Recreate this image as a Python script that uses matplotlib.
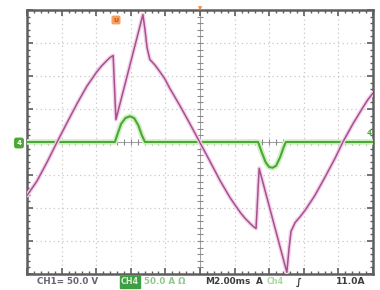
#!/usr/bin/env python3
"""Oscilloscope capture: line voltage (CH1) with notching and line current (CH4)."""

import numpy as np
import matplotlib
matplotlib.use("Agg")
import matplotlib.pyplot as plt
from matplotlib.ticker import MultipleLocator

# ---------------------------------------------------------------------------
# Data (screen divisions: time 0..10 div, amplitude -4..4 div)
# ---------------------------------------------------------------------------
volt_t = [0.00, 0.14, 0.29, 0.58, 0.87, 1.16, 1.45, 1.73, 2.02, 2.16, 2.31,
          2.40, 2.49,
          2.57, 3.35, 3.41, 3.47, 3.55, 3.70, 3.84, 3.98, 4.13, 4.42, 4.71,
          4.99,
          5.29, 5.58, 5.87, 6.16, 6.30, 6.45, 6.54, 6.62,
          6.71, 7.51, 7.57, 7.63, 7.75, 7.89, 8.03, 8.17, 8.32, 8.61, 8.90,
          9.13, 9.42, 9.71, 9.85, 10.00]
volt_v = [-1.62, -1.41, -1.18, -0.61, 0.00, 0.59, 1.17, 1.69, 2.13, 2.31, 2.47,
          2.56, 2.62,
          0.68, 3.86, 3.40, 2.86, 2.50, 2.33, 2.13, 1.92, 1.62, 1.10, 0.55,
          0.00,
          -0.59, -1.17, -1.69, -2.13, -2.31, -2.47, -2.56, -2.62,
          -0.80, -3.95, -3.26, -2.71, -2.44, -2.27, -2.08, -1.86, -1.62, -1.07,
          -0.50, 0.00, 0.55, 1.05, 1.28, 1.48]

curr_t = [0.00, 2.54, 2.62, 2.72, 2.85, 2.98, 3.10, 3.22, 3.32, 3.41,
          6.68, 6.78, 6.90, 7.00, 7.10, 7.20, 7.32, 7.42, 7.48, 10.00]
curr_v = [0.00, 0.00, 0.25, 0.55, 0.73, 0.78, 0.72, 0.50, 0.20, 0.00,
          0.00, -0.30, -0.62, -0.76, -0.78, -0.72, -0.45, -0.15, 0.00, 0.00]

# status bar labels
ch1_label = "CH1= 50.0 V"
ch4_tag = "CH4"
ch4_label = "50.0 A \u03a9"
time_label = "M2.00ms"
trig_labels = ["A", "Ch4", "\u222b", "11.0A"]

MAGENTA = "#a4528e"
MAGENTA_HALO = "#f4d0ea"
GREEN = "#4aa836"
GREEN_HALO = "#d2f0c4"
FRAME = "#5e5e5e"
GRID = "#c8c8c8"

# ---------------------------------------------------------------------------
# Figure
# ---------------------------------------------------------------------------
fig = plt.figure(figsize=(3.8, 2.9), dpi=100)
fig.patch.set_facecolor("white")
ax = fig.add_axes([27 / 380, 16 / 290, 346 / 380, 264 / 290])
ax.set_xlim(0, 10)
ax.set_ylim(-4, 4)

# graticule: dotted division lines
for gx in range(1, 10):
    ax.axvline(gx, color=GRID, linestyle=(0, (1, 2.5)), linewidth=0.9, zorder=1)
for gy in range(-3, 4):
    ax.axhline(gy, color=GRID, linestyle=(0, (1, 2.5)), linewidth=0.9, zorder=1)

# centre cross with sub-division ticks
ax.axvline(5, color="#a0a0a0", linewidth=0.7, zorder=1)
ax.axhline(0, color="#a0a0a0", linewidth=0.7, zorder=1)
sub = np.arange(0.2, 10, 0.2)
ax.plot(sub, np.zeros_like(sub), "|", color="#8a8a8a", markersize=4, mew=0.8, zorder=1)
suby = np.arange(-3.8, 4, 0.2)
ax.plot(np.full_like(suby, 5), suby, "_", color="#8a8a8a", markersize=4, mew=0.8, zorder=1)

# frame with inward ticks
for sp in ax.spines.values():
    sp.set_color(FRAME)
    sp.set_linewidth(1.8)
ax.xaxis.set_major_locator(MultipleLocator(1))
ax.yaxis.set_major_locator(MultipleLocator(1))
ax.xaxis.set_minor_locator(MultipleLocator(0.2))
ax.yaxis.set_minor_locator(MultipleLocator(0.2))
ax.tick_params(which="both", direction="in", top=True, right=True,
               labelbottom=False, labelleft=False, color=FRAME)
ax.tick_params(which="major", length=4, width=1.2)
ax.tick_params(which="minor", length=2.5, width=1.0)

# traces (soft halo + core line, like a scope display)
ax.plot(curr_t, curr_v, color=GREEN_HALO, linewidth=4.0, zorder=3,
        solid_capstyle="round")
ax.plot(curr_t, curr_v, color=GREEN, linewidth=1.5, zorder=4)
ax.plot(volt_t, volt_v, color=MAGENTA_HALO, linewidth=3.0, zorder=5,
        solid_capstyle="round", solid_joinstyle="round")
ax.plot(volt_t, volt_v, color=MAGENTA, linewidth=1.1, zorder=6,
        solid_joinstyle="round")

# markers: channel ground tag, trigger level, trigger position, cursor tag
fig.text(19 / 380, 1 - 143 / 290, "4", color="white", fontsize=5,
         fontweight="bold", ha="center", va="center",
         bbox=dict(boxstyle="round,pad=0.25", fc=GREEN, ec=GREEN))
fig.text(369 / 380, 1 - 133 / 290, "4", color=GREEN, fontsize=5,
         fontweight="bold", ha="center", va="center")
fig.text(200 / 380, 1 - 9 / 290, "\u25bc", color="#f08a3c", fontsize=4,
         ha="center", va="center")
fig.text(116 / 380, 1 - 20 / 290, "U", color="#c05010", fontsize=4.5,
         fontweight="bold", ha="center", va="center",
         bbox=dict(boxstyle="round,pad=0.2", fc="#f5a060", ec="#f5a060"))

# status bar
ty = 1 - 282 / 290
fig.text(37 / 380, ty, ch1_label, color="#6c6272", fontsize=6.3,
         fontweight="bold", va="center")
fig.text(121 / 380, ty, ch4_tag, color="#d8f0d0", fontsize=5.8,
         fontweight="bold", va="center",
         bbox=dict(boxstyle="square,pad=0.15", fc="#3e9e44", ec="#3e9e44"))
fig.text(144 / 380, ty, ch4_label, color="#90c890", fontsize=6.3,
         fontweight="bold", va="center")
fig.text(205 / 380, ty, time_label, color="#3c3c3c", fontsize=6.4,
         fontweight="bold", va="center")
fig.text(256 / 380, ty, trig_labels[0], color="#3c3c3c", fontsize=6.4,
         fontweight="bold", va="center")
fig.text(267 / 380, ty, trig_labels[1], color="#a8d8a0", fontsize=5.8,
         fontweight="bold", va="center")
fig.text(296 / 380, ty, trig_labels[2], color="#3c3c3c", fontsize=7,
         fontweight="bold", va="center")
fig.text(336 / 380, ty, trig_labels[3], color="#3c3c3c", fontsize=6.6,
         fontweight="bold", va="center")

fig.savefig("out.png", dpi=100, facecolor="white")
